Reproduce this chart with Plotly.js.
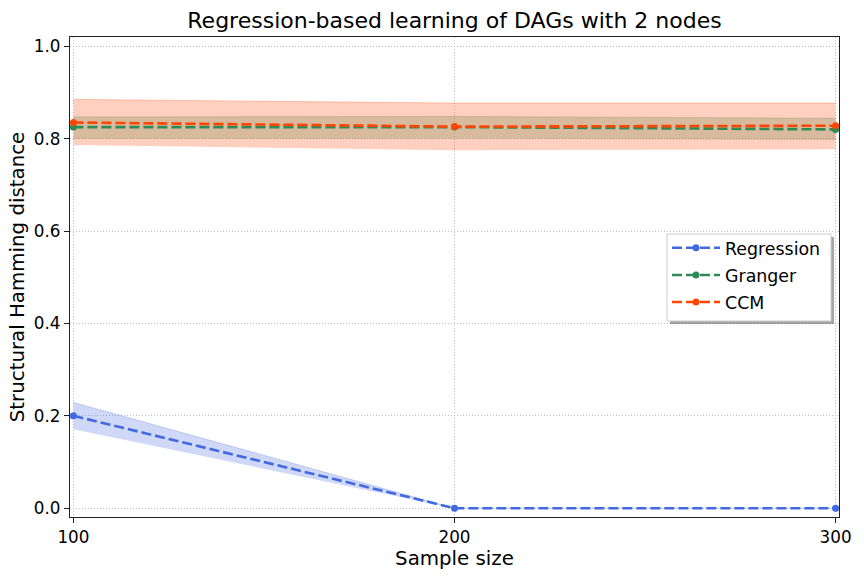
<!DOCTYPE html>
<html>
<head>
<meta charset="utf-8">
<script src="https://cdn.plot.ly/plotly-3.0.1.min.js"></script>
<style>
  html, body { margin: 0; padding: 0; background: #fff; }
  #chart { width: 864px; height: 576px; }
</style>
</head>
<body>
<div id="chart"></div>
<script>
// Sample sizes on the x axis
const sampleSizes = [100, 200, 300];
const xTicks = [100, 200, 300];
const yTicks = [0.0, 0.2, 0.4, 0.6, 0.8, 1.0];
const yTickText = ['0.0', '0.2', '0.4', '0.6', '0.8', '1.0'];

// Mean SHD per method, plus the shaded band edges
const regressionMean = [0.2, 0.0, 0.0];
const regressionLow = [0.171, 0.0, 0.0];
const regressionHigh = [0.229, 0.0, 0.0];

const grangerMean = [0.825, 0.825, 0.820];
const grangerLow = [0.799, 0.800, 0.797];
const grangerHigh = [0.847, 0.848, 0.844];

const ccmMean = [0.835, 0.826, 0.828];
const ccmLow = [0.786, 0.775, 0.777];
const ccmHigh = [0.885, 0.877, 0.877];

const methods = [
    {name: 'Regression', mean: regressionMean, low: regressionLow, high: regressionHigh,
     color: '#4169e1', fill: 'rgba(65, 105, 225, 0.25)'},
    {name: 'Granger', mean: grangerMean, low: grangerLow, high: grangerHigh,
     color: '#2e8b57', fill: 'rgba(46, 139, 87, 0.25)'},
    {name: 'CCM', mean: ccmMean, low: ccmLow, high: ccmHigh,
     color: '#ff4500', fill: 'rgba(255, 69, 0, 0.25)'}
];

const font = 'DejaVu Sans, sans-serif';

// band first (lower edge, then upper edge filled down to it), line on top
const traces = [];
methods.forEach(m => {
    traces.push({
        x: sampleSizes, y: m.low, type: 'scatter', mode: 'lines',
        line: {width: 0, color: m.fill}, showlegend: false, hoverinfo: 'skip'
    });
    traces.push({
        x: sampleSizes, y: m.high, type: 'scatter', mode: 'lines',
        line: {width: 1, color: m.fill}, fill: 'tonexty', fillcolor: m.fill,
        showlegend: false, hoverinfo: 'skip'
    });
});
methods.forEach(m => {
    traces.push({
        x: sampleSizes, y: m.mean, type: 'scatter', mode: 'lines+markers',
        name: m.name, legendgroup: m.name,
        line: {color: m.color, width: 2.6, dash: '10px,4px'},
        marker: {color: m.color, size: 7}
    });
});

const axisCommon = {
    showline: true, linecolor: '#222', linewidth: 1.2, mirror: true,
    ticks: 'outside', ticklen: 5, tickcolor: '#222', tickwidth: 1,
    showgrid: true, gridcolor: '#b0b0b0', gridwidth: 0.8, griddash: '1px,2px',
    zeroline: false,
    tickfont: {family: font, size: 16.8, color: '#000'}
};

// plot area in pixels, used to place the legend frame in paper units
const plotL = 70, plotW = 769, plotB = 517, plotH = 480;
const px = v => (v - plotL) / plotW;
const py = v => (plotB - v) / plotH;

// legend frame drawn as shapes (box + shadow), items placed inside it
const boxL = 667, boxR = 831, boxT = 234, boxB = 321;

const layout = {
    width: 864, height: 576,
    paper_bgcolor: '#fff', plot_bgcolor: '#fff',
    margin: {l: 70, r: 25, t: 37, b: 59},
    font: {family: font, color: '#000'},
    title: {
        text: 'Regression-based learning of DAGs with 2 nodes',
        font: {family: font, size: 22, color: '#000'},
        x: 0.5, xref: 'paper', y: 0.965, yref: 'container', yanchor: 'middle'
    },
    xaxis: Object.assign({}, axisCommon, {
        range: [99.1, 300.9], tickvals: xTicks, ticktext: xTicks.map(String),
        title: {text: 'Sample size', font: {family: font, size: 19.8, color: '#000'}, standoff: 4}
    }),
    yaxis: Object.assign({}, axisCommon, {
        range: [-0.019, 1.02], tickvals: yTicks, ticktext: yTickText,
        title: {text: 'Structural Hamming distance', font: {family: font, size: 19.8, color: '#000'}, standoff: 3}
    }),
    legend: {
        x: px(boxL), y: py(boxT - 4), xanchor: 'left', yanchor: 'top',
        traceorder: 'grouped', tracegroupgap: 1.5, itemwidth: 48,
        bgcolor: 'rgba(0,0,0,0)', borderwidth: 0,
        font: {family: font, size: 17.4, color: '#000'}
    },
    shapes: [
        {
            type: 'rect', xref: 'paper', yref: 'paper', layer: 'above',
            x0: px(boxL + 3), x1: px(boxR + 3), y0: py(boxB + 3), y1: py(boxT + 3),
            fillcolor: 'rgba(0,0,0,0.35)', line: {width: 0}
        },
        {
            type: 'rect', xref: 'paper', yref: 'paper', layer: 'above',
            x0: px(boxL), x1: px(boxR), y0: py(boxB), y1: py(boxT),
            fillcolor: '#fff', line: {color: '#cccccc', width: 1}
        }
    ],
    showlegend: true
};

Plotly.newPlot('chart', traces, layout, {displayModeBar: false, staticPlot: true});
</script>
</body>
</html>
